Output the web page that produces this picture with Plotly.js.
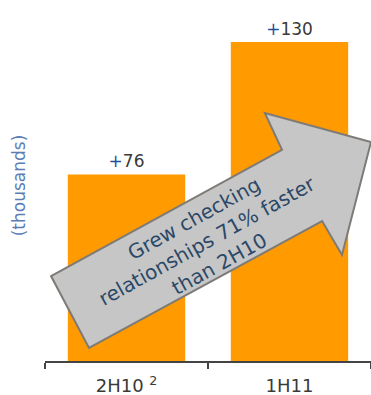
<!DOCTYPE html>
<html>
<head>
<meta charset="utf-8">
<script src="https://cdn.plot.ly/plotly-3.0.1.min.js"></script>
<style>
  html, body { margin: 0; padding: 0; background: #ffffff; }
  #chart { width: 371px; height: 395px; }
</style>
</head>
<body>
<div id="chart"></div>
<script>
// New checking relationships added per half-year (thousands)
const periods = ['2H10', '1H11'];
const tickLabels = ['2H10 <sup>2</sup>', '1H11'];
const growth = [76, 130];

// Callout arrow outline, in axis units (category index, thousands)
const arrowX = [-0.463, 0.954, 0.849, 1.5, 1.322, 1.200, -0.230];
const arrowY = [34.6, 86.0, 101.0, 89.2, 43.2, 57.0, 5.3];
const calloutText = 'Grew checking<br>relationships 71% faster<br>than 2H10';

const FONT = 'DejaVu Sans, Verdana, sans-serif';

const arrowPath = arrowX.map((x, i) => (i ? 'L' : 'M') + x + ',' + arrowY[i]).join(' ') + ' Z';

const trace = {
  type: 'bar',
  x: periods,
  y: growth,
  width: 0.72,
  marker: { color: '#FF9A00', line: { width: 0 } },
  text: growth.map(v => '<span style="color:#1F4E9A">+</span>' + v),
  textposition: 'outside',
  cliponaxis: false,
  textfont: { family: FONT, size: 17, color: '#3A3A3A' },
  hoverinfo: 'skip'
};

const layout = {
  width: 371,
  height: 395,
  margin: { l: 45, r: 0, t: 10, b: 34 },
  paper_bgcolor: '#ffffff',
  plot_bgcolor: '#ffffff',
  showlegend: false,
  bargap: 0.28,
  xaxis: {
    type: 'category',
    range: [-0.5, 1.5],
    tickvals: periods,
    ticktext: tickLabels,
    tickson: 'boundaries',
    ticks: 'outside',
    ticklen: 6,
    tickwidth: 1.5,
    tickcolor: '#444444',
    ticklabelstandoff: 8,
    showline: true,
    linecolor: '#444444',
    linewidth: 1.5,
    showgrid: false,
    zeroline: false,
    tickfont: { family: FONT, size: 18, color: '#3A3A3A' },
    fixedrange: true
  },
  yaxis: {
    range: [0, 143],
    showticklabels: false,
    showgrid: false,
    zeroline: false,
    showline: false,
    ticks: '',
    title: { text: '(thousands)', font: { family: FONT, size: 17, color: '#5B7DB5' }, standoff: 14 },
    fixedrange: true
  },
  shapes: [{
    type: 'path',
    xref: 'x',
    yref: 'y',
    path: arrowPath,
    fillcolor: '#C6C6C6',
    line: { color: '#7E7A76', width: 2 },
    layer: 'above'
  }],
  annotations: [{
    xref: 'x',
    yref: 'y',
    x: 0.494,
    y: 48.9,
    text: calloutText,
    showarrow: false,
    textangle: -29,
    align: 'center',
    font: { family: FONT, size: 20, color: '#2A4868' }
  }]
};

Plotly.newPlot('chart', [trace], layout, { displayModeBar: false, staticPlot: true });
</script>
</body>
</html>
